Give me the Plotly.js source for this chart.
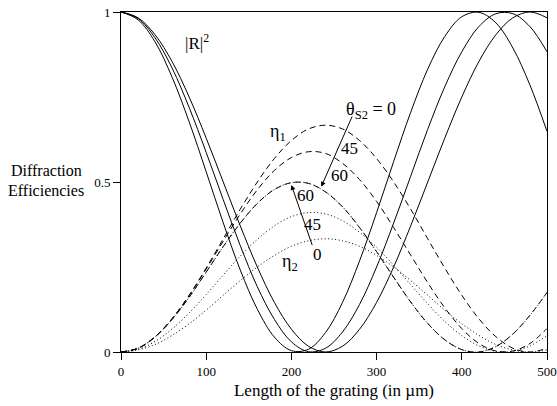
<!DOCTYPE html>
<html>
<head>
<meta charset="utf-8">
<script src="https://cdn.plot.ly/plotly-3.0.1.min.js"></script>
<style>html,body{margin:0;padding:0;background:#fff}#chart{width:557px;height:406px}</style>
</head>
<body>
<div id="chart"></div>
<script>
// Grating length (µm)
var lengthUm = [0,20,40,60,80,100,120,140,160,180,200,220,240,260,280,300,320,340,360,380,400,420,440,460,480,500];

// |R|^2 for the three angles
var R2_theta0  = [1,0.983,0.933,0.854,0.75,0.629,0.5,0.371,0.25,0.146,0.067,0.017,0,0.017,0.067,0.146,0.25,0.371,0.5,0.629,0.75,0.854,0.933,0.983,1,0.983];
var R2_theta45 = [1,0.981,0.924,0.835,0.719,0.587,0.448,0.313,0.192,0.096,0.030,0.001,0.011,0.059,0.140,0.25,0.379,0.517,0.655,0.780,0.883,0.957,0.995,0.995,0.957,0.883];
var R2_theta60 = [1,0.977,0.912,0.808,0.677,0.530,0.380,0.241,0.126,0.044,0.004,0.008,0.057,0.146,0.268,0.410,0.560,0.705,0.832,0.928,0.986,0.999,0.968,0.894,0.785,0.649];

// eta1 (dashed)
var eta1_theta0  = [0,0.011,0.045,0.098,0.167,0.247,0.333,0.420,0.500,0.569,0.622,0.656,0.667,0.656,0.622,0.569,0.500,0.420,0.333,0.247,0.167,0.098,0.045,0.011,0,0.011];
var eta1_theta45 = [0,0.011,0.045,0.098,0.166,0.244,0.326,0.406,0.477,0.534,0.572,0.589,0.584,0.555,0.507,0.443,0.366,0.285,0.204,0.130,0.069,0.025,0.003,0.003,0.025,0.069];
var eta1_theta60 = [0,0.011,0.044,0.096,0.161,0.235,0.310,0.379,0.437,0.478,0.498,0.496,0.471,0.427,0.366,0.295,0.220,0.147,0.084,0.036,0.007,0.000,0.016,0.053,0.108,0.175];

// eta2 (dotted)
var eta2_theta0  = [0,0.006,0.022,0.049,0.083,0.123,0.167,0.210,0.250,0.284,0.311,0.327,0.333,0.327,0.311,0.284,0.250,0.210,0.167,0.123,0.083,0.049,0.022,0.006,0,0.006];
var eta2_theta45 = [0,0.008,0.031,0.068,0.115,0.169,0.226,0.282,0.331,0.371,0.398,0.410,0.406,0.386,0.352,0.308,0.255,0.198,0.142,0.090,0.048,0.018,0.002,0.002,0.018,0.048];
var eta2_theta60 = [0,0.011,0.044,0.096,0.161,0.235,0.310,0.379,0.437,0.478,0.498,0.496,0.471,0.427,0.366,0.295,0.220,0.147,0.084,0.036,0.007,0.000,0.016,0.053,0.108,0.175];

var xTicks = [0,100,200,300,400,500];
var yTicks = [0,0.5,1];
var yTickText = ['0','0.5','1'];

function tr(y, dash){
  return {x: lengthUm, y: y, mode:'lines', type:'scatter', hoverinfo:'skip',
    line:{color:'#000', width:1, dash:dash, shape:'spline', smoothing:1}};
}
var data = [
  tr(R2_theta0,'solid'), tr(R2_theta45,'solid'), tr(R2_theta60,'solid'),
  tr(eta1_theta0,'6px,4px'), tr(eta1_theta45,'6px,4px'), tr(eta1_theta60,'6px,4px'),
  tr(eta2_theta0,'1px,2.5px'), tr(eta2_theta45,'1px,2.5px'), tr(eta2_theta60,'1px,2.5px')
];

var F = 'Liberation Serif, Times New Roman, serif';
function lab(x, y, text, size){
  return {x:x, y:y, text:text, showarrow:false, font:{family:F, size:size, color:'#000'}};
}
var layout = {
  width:557, height:406,
  margin:{l:121, r:10, t:12, b:54},
  paper_bgcolor:'#fff', plot_bgcolor:'#fff',
  showlegend:false,
  font:{family:F, size:13, color:'#000'},
  xaxis:{range:[0,500], tickvals:xTicks, ticks:'outside', ticklen:7, tickcolor:'#000',
    showline:true, linecolor:'#000', linewidth:1, mirror:true, showgrid:false, zeroline:false,
    tickfont:{family:F, size:13, color:'#000'},
    title:{text:'Length of the grating (in µm)', font:{family:F, size:17, color:'#000'}, standoff:6}},
  yaxis:{range:[0,1], tickvals:yTicks, ticktext:yTickText, ticks:'outside', ticklen:7, tickcolor:'#000',
    showline:true, linecolor:'#000', linewidth:1, mirror:true, showgrid:false, zeroline:false,
    tickfont:{family:F, size:13, color:'#000'}},
  annotations:[
    {xref:'paper', yref:'paper', x:(46-121)/426, y:(352-170)/340, text:'Diffraction', showarrow:false,
      font:{family:F, size:16, color:'#000'}, xanchor:'center', yanchor:'middle'},
    {xref:'paper', yref:'paper', x:(46-121)/426, y:(352-190)/340, text:'Efficiencies', showarrow:false,
      font:{family:F, size:16, color:'#000'}, xanchor:'center', yanchor:'middle'},
    lab(89, 0.912, '|R|<sup>2</sup>', 17),
    lab(184, 0.647, 'η<sub>1</sub>', 18),
    lab(293, 0.71, 'θ<sub>S2</sub> = 0', 18),
    lab(268.5, 0.598, '45', 17),
    lab(257, 0.518, '60', 17),
    lab(216, 0.459, '60', 17),
    lab(225, 0.376, '45', 17),
    lab(231, 0.288, '0', 17),
    lab(198, 0.262, 'η<sub>2</sub>', 18),
    {x:235, y:0.486, ax:272, ay:0.697, axref:'x', ayref:'y', text:'', showarrow:true,
      arrowhead:2, arrowsize:1, arrowwidth:1, arrowcolor:'#000'},
    {x:200, y:0.491, ax:225, ay:0.31, axref:'x', ayref:'y', text:'', showarrow:true,
      arrowhead:2, arrowsize:1, arrowwidth:1, arrowcolor:'#000'}
  ]
};
Plotly.newPlot('chart', data, layout, {displayModeBar:false, staticPlot:true});
</script>
</body>
</html>
